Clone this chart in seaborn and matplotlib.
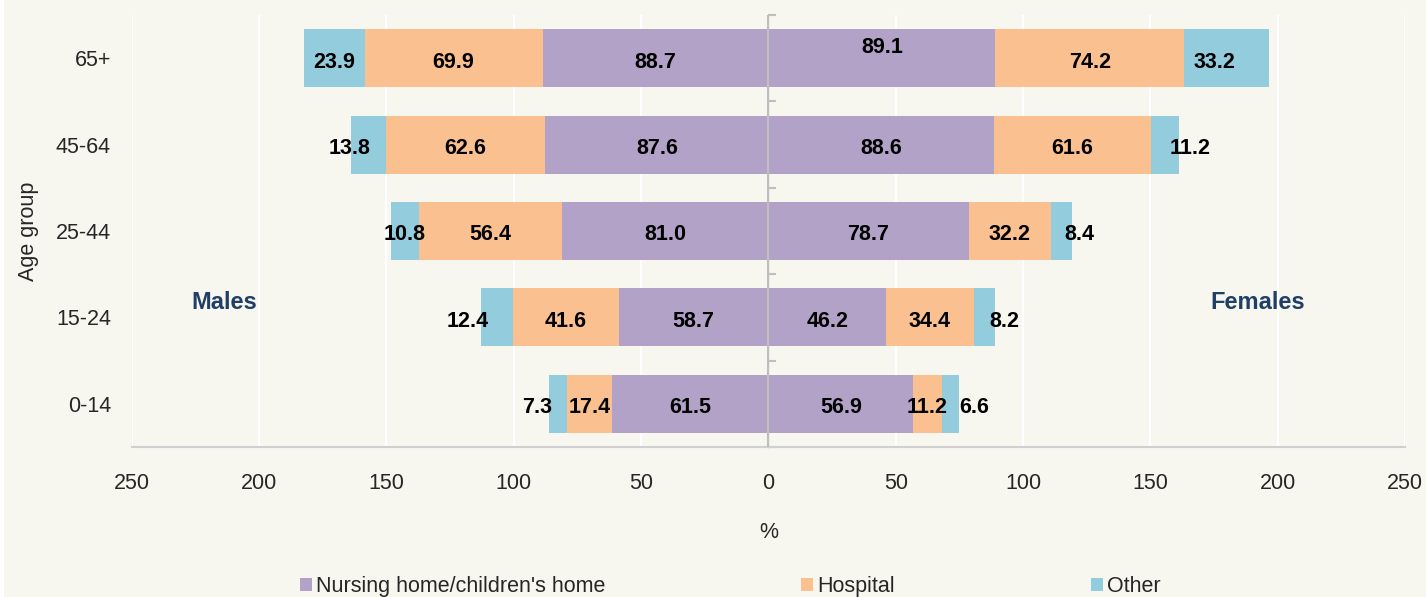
import matplotlib.pyplot as plt
import matplotlib.patches as mpatches
import seaborn as sns
import numpy as np

sns.set_style("white")
plt.rcParams['font.family'] = ['Liberation Sans', 'DejaVu Sans']

age_groups = ["65+", "45-64", "25-44", "15-24", "0-14"]
categories = ["Nursing home/children's home", "Hospital", "Other"]
colors = ["#b3a2c7", "#fac090", "#93cddd"]

male_nursing = [88.7, 87.6, 81.0, 58.7, 61.5]
male_hospital = [69.9, 62.6, 56.4, 41.6, 17.4]
male_other = [23.9, 13.8, 10.8, 12.4, 7.3]

female_nursing = [89.1, 88.6, 78.7, 46.2, 56.9]
female_hospital = [74.2, 61.6, 32.2, 34.4, 11.2]
female_other = [33.2, 11.2, 8.4, 8.2, 6.6]

# hand-tuned nudges of the "Other" labels (x units), like the original
male_other_shift = [0, -7.5, 0, -11.5, -8.3]
female_other_shift = [-4.7, 10, 7, 8, 9.5]

FS = 15.5
bg = "#f7f7f0"
fig = plt.figure(figsize=(14.26, 5.97), dpi=100, facecolor=bg)
ax = fig.add_axes([0.0924, 0.2513, 0.8929, 0.7236])
ax.set_facecolor(bg)
fig.patches.append(mpatches.Rectangle((0, 0), 4 / 1426, 1, transform=fig.transFigure,
                                      facecolor="white", edgecolor="none", zorder=-5))

sides = [
    (-1, [male_nursing, male_hospital, male_other], male_other_shift),
    (1, [female_nursing, female_hospital, female_other], female_other_shift),
]
for sign, series, shifts in sides:
    arr = np.array(series)
    cum = np.cumsum(arr, axis=0)
    # draw largest stack first so shorter segments sit on top
    for k in range(2, -1, -1):
        sns.barplot(x=sign * cum[k], y=age_groups, orient="h", color=colors[k], saturation=1,
                    width=0.67, linewidth=0, ax=ax, zorder=2)
    # value labels
    for k in range(3):
        for i in range(len(age_groups)):
            xx = sign * (cum[k, i] - arr[k, i] / 2)
            if k == 2:
                xx += shifts[i]
            yy = i + 0.045
            if sign == 1 and k == 0 and i == 0:
                yy = i - 0.12
            ax.text(xx, yy, f"{arr[k, i]:.1f}", ha="center", va="center",
                    fontsize=FS, fontweight="bold", color="black", zorder=4)

ax.set_xlim(-250, 250)
ax.set_ylim(4.5, -0.5)
ticks = np.arange(-250, 251, 50)
ax.set_xticks(ticks)
ax.set_xticklabels([str(abs(t)) for t in ticks], fontsize=FS)
ax.set_yticks(range(len(age_groups)))
ax.set_yticklabels(age_groups, fontsize=FS)
ax.tick_params(axis="y", length=0, pad=15)
ax.tick_params(axis="x", direction="out", length=6, color="#d0d0d0", pad=13)

ax.set_axisbelow(True)
ax.grid(axis="x", color="white", linewidth=1.6)
ax.grid(axis="y", visible=False)
for s in ["left", "right", "top"]:
    ax.spines[s].set_visible(False)
ax.spines["bottom"].set_color("#d0d0d0")
ax.spines["bottom"].set_linewidth(1.5)

ax.set_xlabel("%", fontsize=FS, labelpad=20)
ax.set_ylabel("Age group", fontsize=FS, labelpad=12)

# centre axis line with boundary ticks
ax.axvline(0, color="#bfbfbf", linewidth=1.5, zorder=3)
sec = ax.secondary_yaxis(0.5)
sec.set_yticks(np.arange(-0.5, 4.6, 1.0))
sec.set_yticklabels([])
sec.tick_params(direction="out", length=6, color="#bfbfbf", width=1.5)
sec.spines["left"].set_visible(False)

ax.text(-213.8, 2.83, "Males", ha="center", va="center", fontsize=17,
        fontweight="bold", color="#1f3f66", zorder=4)
ax.text(192, 2.83, "Females", ha="center", va="center", fontsize=17,
        fontweight="bold", color="#1f3f66", zorder=4)

handles = [mpatches.Patch(facecolor=c, edgecolor="none") for c in colors]
fig.legend(handles, categories, loc="center", bbox_to_anchor=(0.512, 0.017), ncol=3,
           frameon=False, fontsize=FS, handlelength=0.55, handleheight=0.55,
           handletextpad=0.2, columnspacing=9.1)

fig.savefig("out.png", dpi=100, facecolor=bg)
